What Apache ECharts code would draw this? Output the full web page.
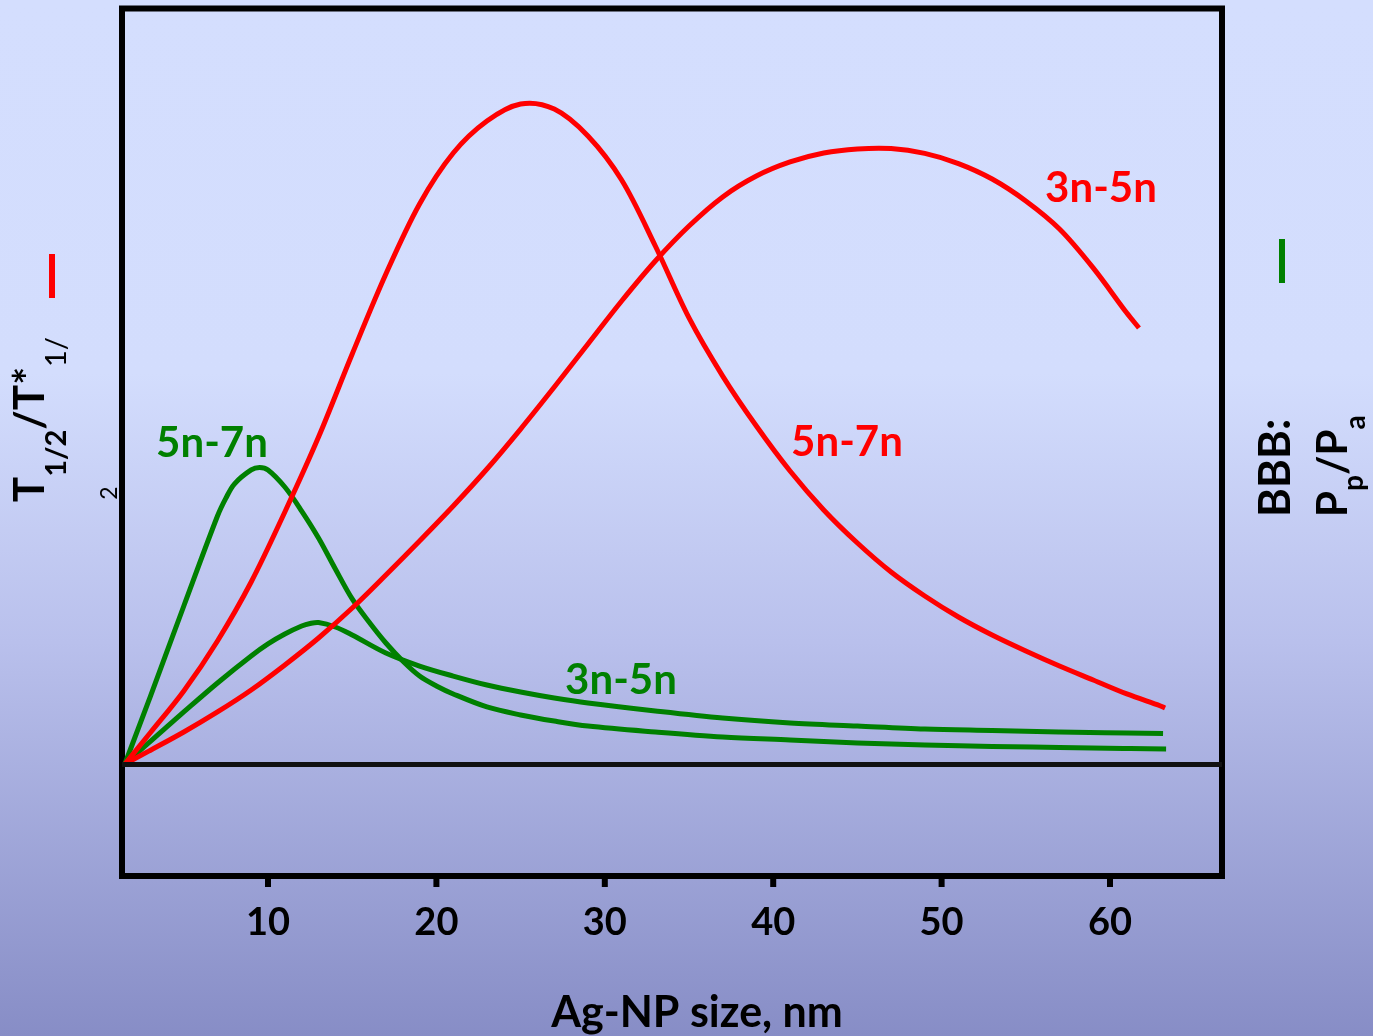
<!DOCTYPE html>
<html>
<head>
<meta charset="utf-8">
<script src="https://cdn.jsdelivr.net/npm/echarts@6/dist/echarts.min.js"></script>
<style>
  html, body { margin: 0; padding: 0; width: 1373px; height: 1036px; overflow: hidden;
    background: linear-gradient(to bottom, #d4defe 0%, #d3ddfd 36%, #b9c0ec 62%, #878dc6 100%); }
  #chart { width: 1373px; height: 1036px; }
</style>
</head>
<body>
<div id="chart"></div>
<script>
// Tick labels
const sizeTicks = [10, 20, 30, 40, 50, 60];
const ratioTicks = [2];

// T1/2 ratio, 5n-7n (red)
const red57X = [1.5, 3, 5, 7, 9, 11, 13, 15, 17, 19, 21, 23, 25, 27, 29, 31, 33, 35, 37, 39, 41, 43, 45, 47, 49, 51, 53, 55, 57, 59, 61, 63, 63.27];
const red57Y = [0, 0.229, 0.539, 0.908, 1.343, 1.860, 2.413, 3.026, 3.616, 4.133, 4.509, 4.745, 4.871, 4.834, 4.635, 4.310, 3.823, 3.292, 2.863, 2.494, 2.162, 1.875, 1.631, 1.417, 1.240, 1.085, 0.952, 0.834, 0.723, 0.620, 0.517, 0.428, 0.413];

// T1/2 ratio, 3n-5n (red)
const red35X = [1.5, 3, 5, 7, 9, 11, 13, 15, 17, 19, 21, 23, 25, 27, 29, 31, 33, 35, 37, 39, 41, 43, 45, 47, 49, 51, 53, 55, 57, 59, 61, 61.72];
const red35Y = [0, 0.100, 0.236, 0.384, 0.546, 0.731, 0.930, 1.151, 1.395, 1.646, 1.904, 2.177, 2.472, 2.782, 3.100, 3.417, 3.712, 3.970, 4.185, 4.339, 4.443, 4.509, 4.539, 4.542, 4.506, 4.431, 4.317, 4.155, 3.948, 3.661, 3.328, 3.218];

// BBB Pp/Pa, 5n-7n (green)
const green57X = [1.5, 3, 5, 7, 7.5, 8, 9, 9.5, 10, 11, 12, 13, 14, 15, 16, 17, 18, 19, 20, 21, 23, 25, 27, 29, 33, 37, 41, 45, 49, 53, 57, 61, 63.33];
const green57Y = [0, 0.494, 1.166, 1.830, 1.962, 2.066, 2.170, 2.188, 2.170, 2.044, 1.867, 1.668, 1.439, 1.218, 1.048, 0.893, 0.760, 0.649, 0.576, 0.517, 0.421, 0.362, 0.317, 0.280, 0.236, 0.199, 0.177, 0.155, 0.140, 0.129, 0.122, 0.114, 0.111];

// BBB Pp/Pa, 3n-5n (green)
const green35X = [1.5, 3, 5, 7, 9, 10, 11, 12, 12.5, 13, 14, 15, 17, 19, 21, 23, 25, 27, 29, 33, 37, 41, 45, 49, 53, 57, 61, 63.15];
const green35Y = [0, 0.166, 0.384, 0.598, 0.797, 0.886, 0.959, 1.018, 1.037, 1.044, 1.011, 0.952, 0.819, 0.723, 0.649, 0.583, 0.531, 0.487, 0.450, 0.391, 0.339, 0.303, 0.280, 0.258, 0.247, 0.236, 0.229, 0.225];

const RED = '#ff0000';
const GREEN = '#008000';
const FONT = 'Lato, "Open Sans", sans-serif';

// Plot frame
const GRID = { left: 122, top: 8.5, width: 1100, height: 867.5 };

const zip = (xs, ys) => xs.map((x, i) => [x, ys[i]]);

// Text measuring for runs of rotated title fragments
const measureCtx = document.createElement('canvas').getContext('2d');
function textWidth(t, size, weight) {
  measureCtx.font = `${weight} ${size}px ${FONT}`;
  return measureCtx.measureText(t).width;
}
// Places fragments bottom-to-top (rotated 90°) starting at (x0, yStart)
function rotatedRun(x0, yStart, parts, color) {
  const out = [];
  let y = yStart;
  parts.forEach(p => {
    const w = textWidth(p.t, p.s, p.w);
    out.push({
      type: 'text', x: x0 + (p.dx || 0), y: y, rotation: Math.PI / 2,
      style: { text: p.t, fill: color || '#000', fontFamily: FONT, fontSize: p.s, fontWeight: p.w,
               align: 'left', verticalAlign: 'middle' }
    });
    y -= w + (p.gap || 0);
  });
  return out;
}

function curveLabel(text, cx, cy, color) {
  return {
    type: 'text', x: cx, y: cy,
    style: { text, fill: color, fontFamily: FONT, fontSize: 42, fontWeight: 'bold',
             align: 'center', verticalAlign: 'middle' }
  };
}

// Cardinal spline path through pixel points (no control-point clamping)
function splinePath(pts) {
  const s = 1 / 3;
  const n = pts.length;
  let d = `M${pts[0][0]},${pts[0][1]}`;
  const ctrl = (i) => {
    const p = pts[i];
    const prev = pts[Math.max(i - 1, 0)];
    const next = pts[Math.min(i + 1, n - 1)];
    const vx = next[0] - prev[0], vy = next[1] - prev[1];
    const d0 = Math.hypot(p[0] - prev[0], p[1] - prev[1]);
    const d1 = Math.hypot(next[0] - p[0], next[1] - p[1]);
    const sum = d0 + d1 || 1;
    return {
      inX: p[0] - vx * s * d0 / sum, inY: p[1] - vy * s * d0 / sum,
      outX: p[0] + vx * s * d1 / sum, outY: p[1] + vy * s * d1 / sum
    };
  };
  const cs = pts.map((_, i) => ctrl(i));
  for (let i = 0; i < n - 1; i++) {
    const a = cs[i], b = cs[i + 1];
    d += ` C${a.outX},${a.outY} ${b.inX},${b.inY} ${pts[i + 1][0]},${pts[i + 1][1]}`;
  }
  return d;
}

function curveSeries(name, xs, ys, color, extra) {
  const data = zip(xs, ys);
  return Object.assign({
    name, type: 'custom', data, clip: true, z: color === RED ? 4 : 3,
    encode: { x: 0, y: 1 },
    renderItem: (params, api) => {
      if (params.dataIndex !== 0) return null;
      const pts = data.map(p => api.coord(p));
      return {
        type: 'path',
        shape: { pathData: splinePath(pts) },
        style: { stroke: color, lineWidth: 5, fill: null, lineJoin: 'round' }
      };
    }
  }, extra || {});
}

const chart = echarts.init(document.getElementById('chart'), null, { renderer: 'canvas' });

const graphics = [].concat(
  rotatedRun(30, 502, [
    { t: 'T', s: 42, w: 'bold' },
    { t: '1/2', s: 29, w: 'bold', dx: 27 },
    { t: '/T*', s: 42, w: 'bold' },
    { t: '1/', s: 29, w: 'normal', dx: 27 }
  ]),
  rotatedRun(1276, 517, [{ t: 'BBB:', s: 44, w: 'bold' }]),
  rotatedRun(1333, 517, [
    { t: 'P', s: 42, w: 'bold' },
    { t: 'p', s: 28, w: 'bold', dx: 21 },
    { t: '/P', s: 42, w: 'bold' },
    { t: 'a', s: 28, w: 'bold', dx: 23 }
  ]),
  [
    { type: 'line', shape: { x1: 52, y1: 254, x2: 52, y2: 298 }, style: { stroke: RED, lineWidth: 6 } },
    { type: 'line', shape: { x1: 1282, y1: 239, x2: 1282, y2: 283 }, style: { stroke: GREEN, lineWidth: 6 } },
    {
      type: 'text', x: 697, y: 1013,
      style: { text: 'Ag-NP size, nm', fill: '#000', fontFamily: FONT, fontSize: 43, fontWeight: 'bold',
               align: 'center', verticalAlign: 'middle' }
    },
    curveLabel('5n-7n', 212, 443, GREEN),
    curveLabel('3n-5n', 621, 680, GREEN),
    curveLabel('5n-7n', 847, 442, RED),
    curveLabel('3n-5n', 1101, 188, RED)
  ]
);

chart.setOption({
  animation: false,
  backgroundColor: 'transparent',
  grid: Object.assign({ show: true, borderColor: '#000', borderWidth: 6, backgroundColor: 'transparent' }, GRID),
  xAxis: {
    type: 'value', min: 1.33, max: 66.65,
    axisLine: { show: false, onZero: false },
    splitLine: { show: false },
    axisTick: { show: false },
    axisLabel: { customValues: sizeTicks, color: '#000', fontFamily: FONT, fontSize: 38,
                 fontWeight: 'bold', margin: 28 }
  },
  yAxis: {
    type: 'value', min: -0.8266, max: 5.5756,
    axisLine: { show: false, onZero: false },
    splitLine: { show: false },
    axisTick: { show: false },
    axisLabel: { customValues: ratioTicks, rotate: 90, color: '#000', fontFamily: FONT,
                 fontSize: 23, margin: 1 }
  },
  series: [
    curveSeries('BBB 5n-7n', green57X, green57Y, GREEN, {
      markLine: {
        silent: true, symbol: 'none', label: { show: false },
        lineStyle: { color: '#111', width: 5, type: 'solid' },
        data: [{ yAxis: 0 }]
      }
    }),
    curveSeries('BBB 3n-5n', green35X, green35Y, GREEN),
    curveSeries('T 5n-7n', red57X, red57Y, RED),
    curveSeries('T 3n-5n', red35X, red35Y, RED)
  ],
  graphic: graphics
});

// Outward tick marks under the frame, placed through the x scale
const frameBottom = GRID.top + GRID.height;
const tickMarks = sizeTicks.map(v => {
  const x = chart.convertToPixel({ xAxisIndex: 0 }, v);
  return { type: 'rect', shape: { x: x - 3, y: frameBottom + 2, width: 6, height: 9 },
           style: { fill: '#000' }, z: 10 };
});
chart.setOption({ graphic: graphics.concat(tickMarks) });
</script>
</body>
</html>
